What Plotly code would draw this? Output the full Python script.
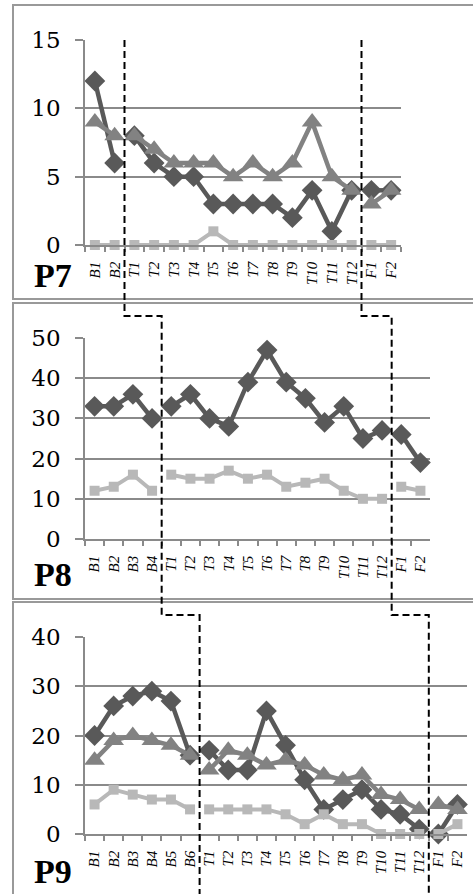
import plotly.graph_objects as go

W, H = 473, 894

# ---------------- data ----------------
p7_cats = ["B1", "B2", "T1", "T2", "T3", "T4", "T5", "T6", "T7", "T8", "T9",
           "T10", "T11", "T12", "F1", "F2"]
p7_diamond = [12, 6, 8, 6, 5, 5, 3, 3, 3, 3, 2, 4, 1, 4, 4, 4]
p7_triangle = [9, 8, 8, 7, 6, 6, 6, 5, 6, 5, 6, 9, 5, 4, 3, 4]
p7_square = [0, 0, 0, 0, 0, 0, 1, 0, 0, 0, 0, 0, 0, 0, 0, 0]

p8_cats = ["B1", "B2", "B3", "B4", "T1", "T2", "T3", "T4", "T5", "T6", "T7",
           "T8", "T9", "T10", "T11", "T12", "F1", "F2"]
p8_diamond = [33, 33, 36, 30, 33, 36, 30, 28, 39, 47, 39, 35, 29, 33, 25, 27, 26, 19]
p8_square = [12, 13, 16, 12, 16, 15, 15, 17, 15, 16, 13, 14, 15, 12, 10, 10, 13, 12]

p9_cats = ["B1", "B2", "B3", "B4", "B5", "B6", "T1", "T2", "T3", "T4", "T5",
           "T6", "T7", "T8", "T9", "T10", "T11", "T12", "F1", "F2"]
p9_diamond = [20, 26, 28, 29, 27, 16, 17, 13, 13, 25, 18, 11, 5, 7, 9, 5, 4, 1, 0, 6]
p9_triangle = [15, 19, 20, 19, 18, 16, 13, 17, 16, 14, 15, 14, 12, 11, 12, 8, 7, 5, 6, 5]
p9_square = [6, 9, 8, 7, 7, 5, 5, 5, 5, 5, 4, 2, 4, 2, 2, 0, 0, 0, 0, 2]

panel_names = ["P7", "P8", "P9"]
y_max = [15, 50, 40]
y_step = [5, 10, 10]

# ---------------- styles ----------------
GRID = "#8a8a8a"
BORDER = "#999999"
STYLES = {
    "diamond": dict(symbol="diamond", size=16, color="#595959", lw=4.5),
    "triangle": dict(symbol="triangle-up", size=18, color="#828282", lw=4.5),
    "square": dict(symbol="square", size=10, color="#b8b8b8", lw=4),
}

# pixel layout of the three plot areas
PLOT_L = 85
geo = [
    dict(right=401, top=40, bottom=245, box=(5, 299), label_y=275),
    dict(right=430, top=338, bottom=539, box=(303, 599), label_y=574),
    dict(right=467, top=637, bottom=834, box=(602, 905), label_y=871),
]
CONNECT_Y = [316, 615]


def px_x(v):
    return v / W


def px_y(v):
    return 1 - v / H


panels = [
    (p7_cats, [("diamond", p7_diamond), ("triangle", p7_triangle), ("square", p7_square)]),
    (p8_cats, [("diamond", p8_diamond), ("square", p8_square)]),
    (p9_cats, [("diamond", p9_diamond), ("triangle", p9_triangle), ("square", p9_square)]),
]

fig = go.Figure()
shapes = []
annotations = []
breaks_px = []

for k, (cats, series) in enumerate(panels):
    g = geo[k]
    sfx = "" if k == 0 else str(k + 1)
    xa, ya = "x" + sfx, "y" + sfx
    # phases split by the leading letter
    phases = []
    start = 0
    for i in range(1, len(cats) + 1):
        if i == len(cats) or cats[i][0] != cats[i - 1][0]:
            phases.append((start, i))
            start = i
    for key, vals in series:
        st = STYLES[key]
        for a, b in phases:
            fig.add_trace(go.Scatter(
                x=cats[a:b], y=vals[a:b], xaxis=xa, yaxis=ya,
                mode="lines+markers", cliponaxis=False, showlegend=False,
                line=dict(color=st["color"], width=st["lw"]),
                marker=dict(symbol=st["symbol"], size=st["size"], color=st["color"],
                            line=dict(width=0)),
                hoverinfo="skip",
            ))
    n = len(cats)
    breaks_px.append([PLOT_L + b / n * (g["right"] - PLOT_L) for (a, b) in phases[:-1]])

    fig.update_layout(**{
        ("xaxis" + sfx): dict(
            domain=[px_x(PLOT_L), px_x(g["right"])], anchor=ya,
            type="category", categoryorder="array", categoryarray=cats,
            range=[-0.5, n - 0.5], showgrid=False, zeroline=False,
            showline=True, linecolor=GRID, linewidth=1.5,
            ticks="outside", tickson="boundaries", ticklen=5, tickwidth=1.5, tickcolor=GRID,
            tickangle=-90, ticklabelstandoff=9, automargin=False,
            tickfont=dict(family="Liberation Serif", size=15, style="italic", color="black"),
            fixedrange=True,
        ),
        ("yaxis" + sfx): dict(
            domain=[px_y(g["bottom"]), px_y(g["top"])], anchor=xa,
            range=[0, y_max[k]], dtick=y_step[k], tick0=0,
            showgrid=True, gridcolor=GRID, gridwidth=1.5, zeroline=False,
            showline=True, linecolor=GRID, linewidth=1.5,
            ticks="outside", ticklen=8, tickwidth=1.5, tickcolor=GRID,
            ticklabelstandoff=10, automargin=False,
            tickfont=dict(family="DejaVu Serif", size=23, color="black"),
            fixedrange=True,
        ),
    })

    # panel border
    shapes.append(dict(type="rect", xref="paper", yref="paper",
                       x0=px_x(13), x1=px_x(W + 20), y0=px_y(g["box"][1]), y1=px_y(g["box"][0]),
                       line=dict(color=BORDER, width=2), fillcolor="rgba(0,0,0,0)", layer="below"))
    annotations.append(dict(text="<b>%s</b>" % panel_names[k], xref="paper", yref="paper",
                            x=px_x(53), y=px_y(g["label_y"]), xanchor="center", yanchor="middle",
                            showarrow=False, font=dict(family="Liberation Serif", size=34, color="black")))

# dashed phase-change lines through the three panels
for j in range(2):
    x7, x8, x9 = breaks_px[0][j], breaks_px[1][j], breaks_px[2][j]
    pts = [(x7, geo[0]["top"]), (x7, CONNECT_Y[0]), (x8, CONNECT_Y[0]),
           (x8, CONNECT_Y[1]), (x9, CONNECT_Y[1]), (x9, H)]
    path = "M " + " L ".join("%.5f,%.5f" % (px_x(a), px_y(b)) for a, b in pts)
    shapes.append(dict(type="path", xref="paper", yref="paper", path=path,
                       line=dict(color="black", width=2, dash="7px,4px")))

fig.update_layout(
    width=W, height=H, margin=dict(l=0, r=0, t=0, b=0, pad=0),
    paper_bgcolor="white", plot_bgcolor="white",
    shapes=shapes, annotations=annotations, showlegend=False,
)

fig.write_html("out.html", config={"displayModeBar": False},
               post_script="document.body.style.margin='0';document.body.style.overflow='hidden';")
